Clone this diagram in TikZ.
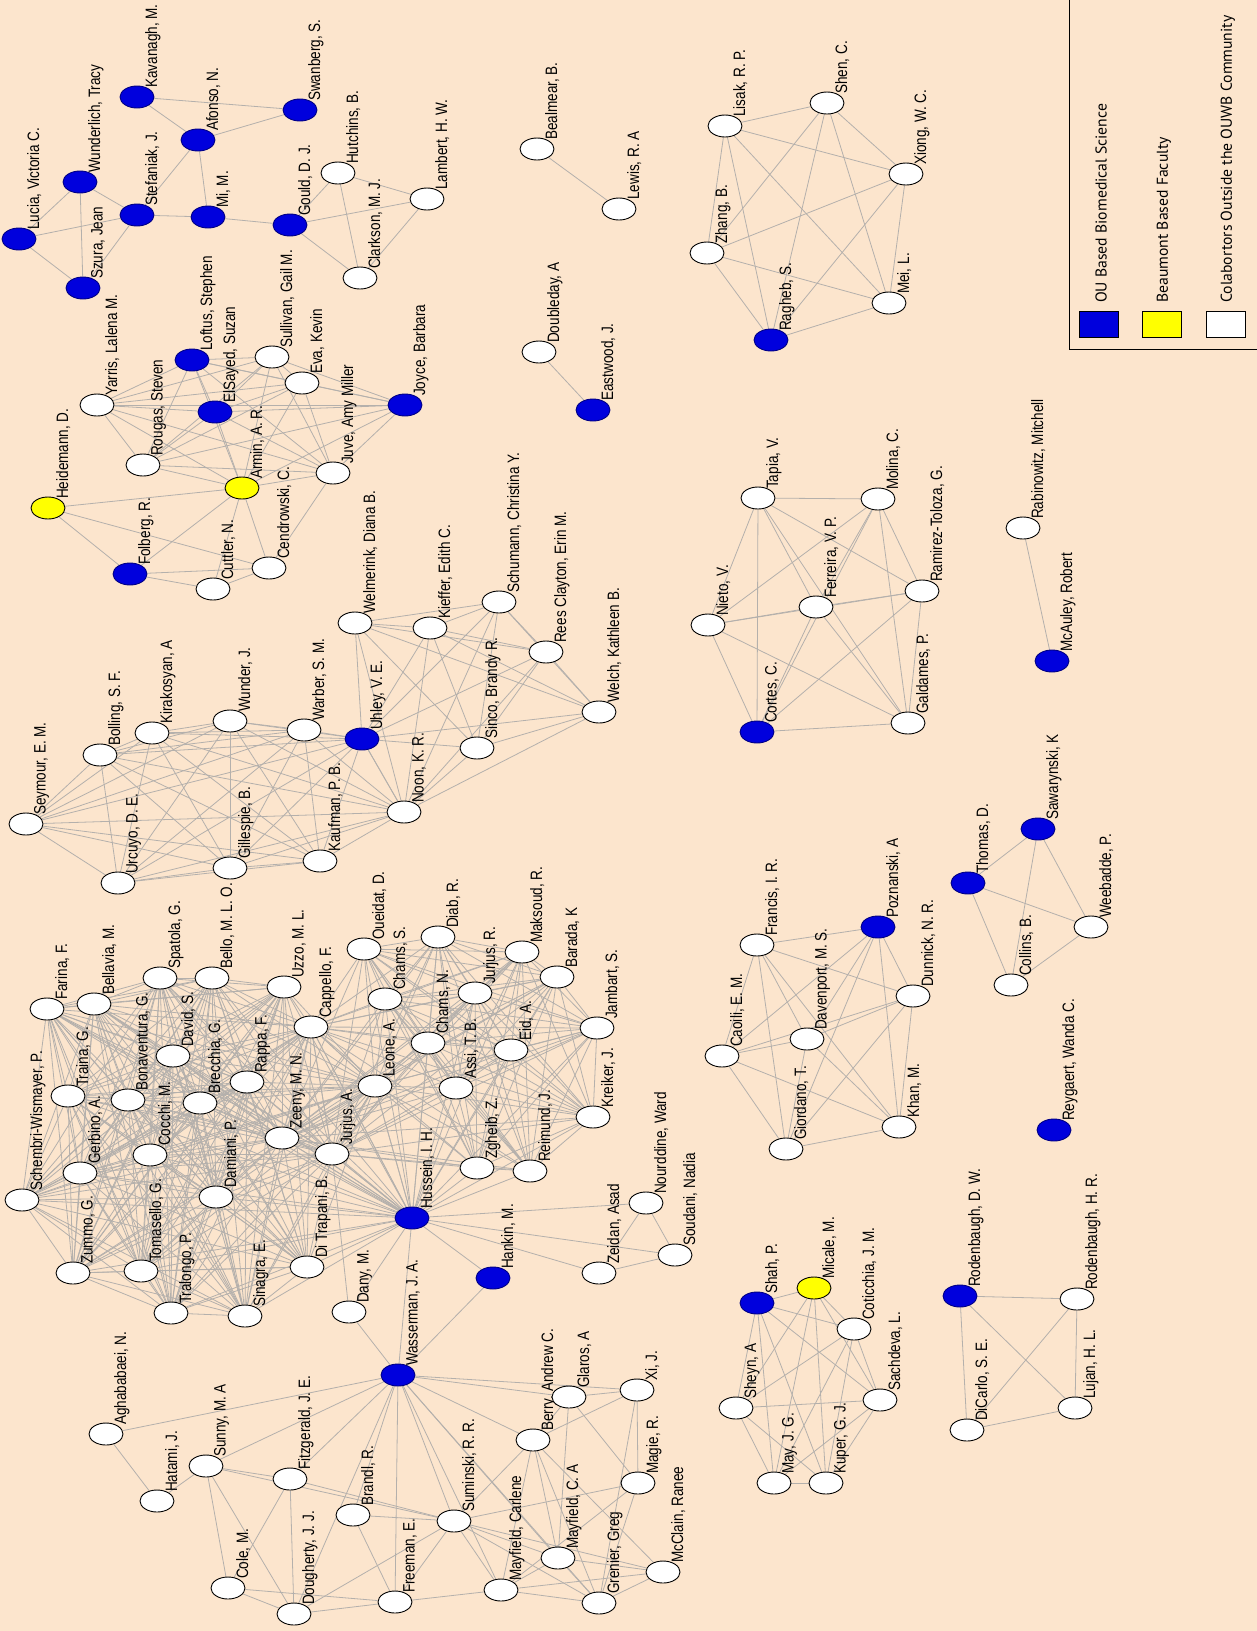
\documentclass[tikz,border=0pt]{standalone}
\usepackage{fontspec}
\setmainfont{Liberation Sans}
\newfontfamily\legfont{PT Sans}
\usetikzlibrary{shapes.geometric}
\definecolor{bgc}{HTML}{FCE5CD}
\definecolor{lnkc}{HTML}{B4B0AC}
\definecolor{oublue}{HTML}{0000DD}
\definecolor{bfyel}{HTML}{FFFF00}
\pgfdeclarelayer{back}
\pgfdeclarelayer{lines}
\pgfsetlayers{back,lines,main}
\tikzset{
 nd/.style={ellipse, minimum width=34pt, minimum height=22pt, inner sep=0pt, line width=0.9pt},
 ou/.style={nd, fill=oublue, draw=oublue!60!black},
 bf/.style={nd, fill=bfyel, draw=black},
 co/.style={nd, fill=white, draw=black},
 lbl/.style={rotate=90, anchor=north west, inner sep=0pt, font=\fontsize{16.5}{17}\selectfont},
 lnk/.style={draw=lnkc, line width=0.8pt},
 legbox/.style={draw=black, line width=1pt, minimum width=39pt, minimum height=26pt, inner sep=0pt},
 legtxt/.style={rotate=90, anchor=west, inner sep=0pt, font=\legfont\fontsize{15.7}{17}\selectfont}
}
\newcommand\pn[5]{\node[#4] (#1) at (#2,#3) {};
  \node[lbl] (#1l) at (#2+8,#3-9) {\scalebox{0.82}[1]{#5}};}
\newcommand\clique[1]{\foreach \a [count=\i] in {#1} {\foreach \b [count=\j] in {#1} {\ifnum\i<\j\relax \draw[lnk] (\a) -- (\b);\fi}}}
\begin{document}
\begin{tikzpicture}[x=1pt,y=-1pt]
\useasboundingbox (0,0) rectangle (1257,1631);
\begin{pgfonlayer}{back}
\fill[bgc] (0,0) rectangle (1257,1631);
\end{pgfonlayer}
% cluster A
\pn{luc}{19}{239}{ou}{Lucia, Victoria C.}
\pn{wun}{80}{182}{ou}{Wunderlich, Tracy}
\pn{kav}{137}{97}{ou}{Kavanagh, M.}
\pn{swa}{300}{110}{ou}{Swanberg, S.}
\pn{afo}{198}{140}{ou}{Afonso, N.}
\pn{ste}{137}{215}{ou}{Stefaniak, J.}
\pn{mim}{208}{217}{ou}{Mi, M.}
\pn{szu}{83}{288}{ou}{Szura, Jean}
\pn{gou}{290}{225}{ou}{Gould, D. J.}
\pn{hut}{338}{173}{co}{Hutchins, B.}
\pn{cla}{360}{278}{co}{Clarkson, M. J.}
\pn{lam}{427}{199}{co}{Lambert, H. W.}
% cluster B
\pn{hei}{48}{508}{bf}{Heidemann, D.}
\pn{yar}{97}{405}{co}{Yarris, Lalena M.}
\pn{rou}{143}{465}{co}{Rougas, Steven}
\pn{els}{215}{412}{ou}{ElSayed, Suzan}
\pn{lof}{192}{360}{ou}{Loftus, Stephen}
\pn{sul}{272}{357}{co}{Sullivan, Gail M.}
\pn{eva}{302}{383}{co}{Eva, Kevin}
\pn{arm}{242}{488}{bf}{Armin, A. R.}
\pn{juv}{333}{473}{co}{Juve, Amy Miller}
\pn{joy}{405}{405}{ou}{Joyce, Barbara}
\pn{fol}{130}{574}{ou}{Folberg, R.}
\pn{cut}{213}{589}{co}{Cuttler, N.}
\pn{cen}{269}{568}{co}{Cendrowski, C.}
% cluster C
\pn{sey}{26}{824}{co}{Seymour, E. M.}
\pn{bol}{100}{755}{co}{Bolling, S. F.}
\pn{kir}{152}{733}{co}{Kirakosyan, A}
\pn{wnd}{230}{721}{co}{Wunder, J.}
\pn{war}{304}{730}{co}{Warber, S. M.}
\pn{uhl}{362}{739}{ou}{Uhley, V. E.}
\pn{urc}{118}{883}{co}{Urcuyo, D. E.}
\pn{gil}{230}{868}{co}{Gillespie, B.}
\pn{kau}{320}{861}{co}{Kaufman, P. B.}
\pn{noo}{404}{812}{co}{Noon, K. R.}
\pn{wel}{355}{623}{co}{Welmerink, Diana B.}
\pn{kie}{430}{628}{co}{Kieffer, Edith C.}
\pn{sch}{499}{602}{co}{Schumann, Christina Y.}
\pn{ree}{546}{652}{co}{Rees Clayton, Erin M.}
\pn{wlc}{599}{712}{co}{Welch, Kathleen B.}
\pn{sin}{477}{748}{co}{Sinco, Brandy R.}
% cluster D
\pn{sw}{22}{1200}{co}{Schembri-Wismayer, P.}
\pn{far}{47}{1009}{co}{Farina, F.}
\pn{bel}{94}{1004}{co}{Bellavia, M.}
\pn{spa}{160}{978}{co}{Spatola, G.}
\pn{bmo}{212}{978}{co}{Bello, M. L. O.}
\pn{uzz}{284}{987}{co}{Uzzo, M. L.}
\pn{oue}{364}{949}{co}{Oueidat, D.}
\pn{chs}{385}{999}{co}{Chams, S.}
\pn{cap}{311}{1027}{co}{Cappello, F.}
\pn{dav}{173}{1056}{co}{David, S.}
\pn{rap}{247}{1082}{co}{Rappa, F.}
\pn{leo}{375}{1086}{co}{Leone, A.}
\pn{tra}{68}{1096}{co}{Traina, G.}
\pn{bon}{128}{1100}{co}{Bonaventura, G.}
\pn{bre}{200}{1103}{co}{Brecchia, G.}
\pn{zee}{282}{1138}{co}{Zeeny, M. N.}
\pn{coc}{150}{1155}{co}{Cocchi, M.}
\pn{jua}{332}{1154}{co}{Jurjus, A.}
\pn{ger}{80}{1173}{co}{Gerbino, A.}
\pn{dam}{216}{1197}{co}{Damiani, P.}
\pn{chn}{428}{1043}{co}{Chams, N.}
\pn{hus}{412}{1218}{ou}{Hussein, I. H.}
\pn{dia}{438}{937}{co}{Diab, R.}
\pn{mak}{522}{952}{co}{Maksoud, R.}
\pn{jur}{475}{993}{co}{Jurjus, R.}
\pn{bar}{557}{977}{co}{Barada, K}
\pn{eid}{511}{1050}{co}{Eid, A.}
\pn{ass}{456}{1088}{co}{Assi, T. B.}
\pn{jam}{597}{1028}{co}{Jambart, S.}
\pn{kre}{593}{1117}{co}{Kreiker, J.}
\pn{zgh}{477}{1168}{co}{Zgheib, Z.}
\pn{rei}{530}{1171}{co}{Reimund, J.}
\pn{nou}{646}{1203}{co}{Nourddine, Ward}
\pn{zei}{599}{1273}{co}{Zeidan, Asad}
\pn{sou}{675}{1255}{co}{Soudani, Nadia}
\pn{han}{493}{1278}{ou}{Hankin, M.}
\pn{zum}{73}{1273}{co}{Zummo, G.}
\pn{tom}{141}{1271}{co}{Tomasello, G.}
\pn{trl}{171}{1313}{co}{Tralongo, P.}
\pn{sng}{245}{1316}{co}{Sinagra, E.}
\pn{dit}{307}{1267}{co}{Di Trapani, B.}
\pn{dan}{349}{1312}{co}{Dany, M.}
\pn{was}{398}{1375}{ou}{Wasserman, J. A.}
% cluster E
\pn{agh}{106}{1434}{co}{Aghababaei, N.}
\pn{hat}{157}{1501}{co}{Hatami, J.}
\pn{sun}{206}{1466}{co}{Sunny, M. A}
\pn{fit}{290}{1479}{co}{Fitzgerald, J. E.}
\pn{bra}{353}{1515}{co}{Brandl, R.}
\pn{col}{228}{1588}{co}{Cole, M.}
\pn{dou}{294}{1614}{co}{Dougherty, J. J.}
\pn{fre}{395}{1602}{co}{Freeman, E.}
\pn{sum}{454}{1521}{co}{Suminski, R. R.}
\pn{ber}{533}{1440}{co}{Berry, Andrew C.}
\pn{gla}{569}{1397}{co}{Glaros, A}
\pn{xij}{637}{1390}{co}{Xi, J.}
\pn{mag}{638}{1483}{co}{Magie, R.}
\pn{mca}{558}{1558}{co}{Mayfield, C. A}
\pn{mcr}{501}{1590}{co}{Mayfield, Carlene}
\pn{gre}{599}{1603}{co}{Grenier, Greg}
\pn{mcl}{663}{1572}{co}{McClain, Ranee}
% Shah
\pn{sha}{757}{1303}{ou}{Shah, P.}
\pn{mic}{814}{1288}{bf}{Micale, M.}
\pn{cot}{854}{1329}{co}{Coticchia, J. M.}
\pn{sac}{880}{1400}{co}{Sachdeva, L.}
\pn{she}{736}{1408}{co}{Sheyn, A}
\pn{may}{774}{1483}{co}{May, J. G.}
\pn{kup}{826}{1483}{co}{Kuper, G. J.}
% Rodenbaugh
\pn{rdw}{960}{1296}{ou}{Rodenbaugh, D. W.}
\pn{rhr}{1077}{1299}{co}{Rodenbaugh, H. R.}
\pn{dic}{967}{1430}{co}{DiCarlo, S. E.}
\pn{luj}{1075}{1408}{co}{Lujan, H. L.}
% Caoili
\pn{cao}{722}{1056}{co}{Caoili, E. M.}
\pn{fra}{757}{945}{co}{Francis, I. R.}
\pn{dvp}{807}{1039}{co}{Davenport, M. S.}
\pn{gio}{786}{1149}{co}{Giordano, T.}
\pn{kha}{899}{1127}{co}{Khan, M.}
\pn{dun}{913}{996}{co}{Dunnick, N. R.}
\pn{poz}{878}{927}{ou}{Poznanski, A}
% Thomas
\pn{tho}{968}{883}{ou}{Thomas, D.}
\pn{saw}{1038}{829}{ou}{Sawarynski, K}
\pn{wee}{1091}{927}{co}{Weebadde, P.}
\pn{clb}{1011}{985}{co}{Collins, B.}
\pn{rey}{1054}{1130}{ou}{Reygaert, Wanda C.}
% Cortes
\pn{cor}{757}{732}{ou}{Cortes, C.}
\pn{nie}{708}{625}{co}{Nieto, V.}
\pn{tap}{758}{498}{co}{Tapia, V.}
\pn{fer}{816}{607}{co}{Ferreira, V. P.}
\pn{mol}{878}{499}{co}{Molina, C.}
\pn{ram}{922}{591}{co}{Ramirez-Toloza, G.}
\pn{gal}{908}{723}{co}{Galdames, P.}
\pn{rab}{1023}{528}{co}{Rabinowitz, Mitchell}
\pn{mcy}{1052}{661}{ou}{McAuley, Robert}
% top middle
\pn{bea}{537}{149}{co}{Bealmear, B.}
\pn{lew}{619}{209}{co}{Lewis, R. A}
\pn{dbl}{539}{352}{co}{Doubleday, A}
\pn{eas}{593}{410}{ou}{Eastwood, J.}
\pn{lis}{725}{126}{co}{Lisak, R. P.}
\pn{zha}{707}{253}{co}{Zhang, B.}
\pn{rag}{771}{340}{ou}{Ragheb, S.}
\pn{shn}{827}{103}{co}{Shen, C.}
\pn{xio}{906}{174}{co}{Xiong, W. C.}
\pn{mei}{889}{303}{co}{Mei, L.}
% legend
\draw[black, line width=1pt] (1069,0) -- (1069,349) -- (1257,349);
\node[legbox, fill=oublue] (lg1) at (1098.5,324.5) {};
\node[legbox, fill=bfyel] (lg2) at (1161.5,324.5) {};
\node[legbox, fill=white] (lg3) at (1226,324.5) {};
\node[legtxt] (lt1) at (1101,303) {OU Based Biomedical Science};
\node[legtxt] (lt2) at (1164,303) {Beaumont Based Faculty};
\node[legtxt] (lt3) at (1228,303) {Colabortors Outside the OUWB Community};
% connectors
\begin{pgfonlayer}{lines}
\foreach \a/\b in {luc/wun,luc/ste,luc/szu,wun/szu,wun/ste,szu/ste,ste/mim,ste/afo,kav/afo,kav/swa,afo/swa,afo/mim,mim/gou,gou/hut,gou/cla,gou/lam,hut/cla,hut/lam,cla/lam}
  \draw[lnk] (\a) -- (\b);
\clique{yar,rou,els,lof,sul,eva,arm,juv,joy}
\foreach \a/\b in {hei/arm,hei/fol,hei/cen,arm/fol,arm/cut,arm/cen,fol/cut,fol/cen,cut/cen,cen/juv}
  \draw[lnk] (\a) -- (\b);
\clique{sey,bol,kir,wnd,war,uhl,urc,gil,kau,noo}
\clique{uhl,wel,kie,sch,ree,wlc,sin,noo}
\clique{sw,far,bel,tra,ger,bon,coc,dav,spa,bmo,bre,rap,uzz,cap,zee,dam,zum,tom,trl,sng,dit,jua,leo,hus}
\clique{oue,chs,chn,dia,jur,mak,bar,eid,ass,jam,kre,zgh,rei,leo,jua,hus,zee,cap}
\foreach \a/\b in {hus/han,hus/zei,hus/sou,hus/nou,hus/dan,zei/sou,zei/nou,nou/sou,han/was,dan/jua,
  was/hus,was/dan,was/agh,was/sun,was/fit,was/bra,was/fre,was/sum,was/ber,was/gla,was/mca,was/mcr,was/gre,was/dou,was/xij,
  agh/hat,hat/sun,sun/fit,sun/col,sun/dou,sun/sum,fit/col,fit/dou,fit/sum,col/dou,col/fre,dou/fre,dou/sum,bra/fre,bra/sum,fre/sum,fre/mcr,
  sum/ber,sum/mcr,sum/mca,sum/gre,sum/mag,sum/mcl,ber/gla,ber/mca,ber/gre,ber/mcl,ber/mcr,ber/xij,gla/xij,gla/mca,gla/mag,
  xij/mag,xij/gre,mag/mcr,mag/gre,mca/gre,mca/mcr,mca/mcl,mcr/gre,mcr/mcl,gre/mcl,
  bea/lew,dbl/eas,rab/mcy}
  \draw[lnk] (\a) -- (\b);
\clique{lis,zha,rag,shn,xio,mei}
\clique{cor,nie,tap,fer,mol,ram,gal}
\clique{cao,fra,dvp,gio,kha,dun,poz}
\clique{sha,mic,cot,sac,she,may,kup}
\clique{rdw,rhr,dic,luj}
\clique{tho,saw,wee,clb}
\end{pgfonlayer}
\end{tikzpicture}
\end{document}
